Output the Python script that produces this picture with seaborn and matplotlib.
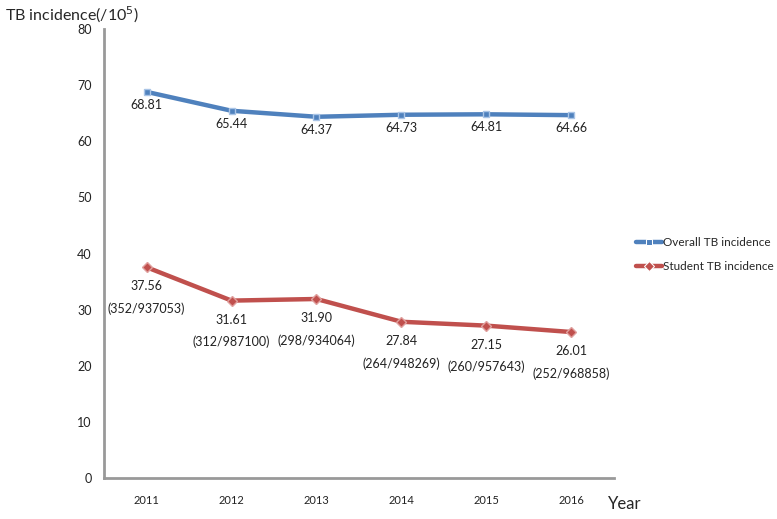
import numpy as np
import pandas as pd
import matplotlib
matplotlib.use('Agg')
import matplotlib.pyplot as plt
import seaborn as sns

# ============================================================
# DATA
# ============================================================

years = ['2011', '2012', '2013', '2014', '2015', '2016']

overall = [68.81, 65.44, 64.37, 64.73, 64.81, 64.66]
student = [37.56, 31.61, 31.90, 27.84, 27.15, 26.01]

student_counts = [
    '(352/937053)',
    '(312/987100)',
    '(298/934064)',
    '(264/948269)',
    '(260/957643)',
    '(252/968858)',
]

series_names = ['Overall TB incidence', 'Student TB incidence']
colors = ['#4F81BD', '#C0504D']

df = pd.DataFrame({
    'pos': list(range(len(years))) * 2,
    'value': overall + student,
    'series': [series_names[0]] * len(years) + [series_names[1]] * len(years),
})

# ============================================================
# PLOT
# ============================================================

sns.set_style('white')
plt.rcParams['font.family'] = ['Lato', 'DejaVu Sans']

fig = plt.figure(figsize=(7.77, 5.19), dpi=100)
ax = fig.add_axes([0.134, 0.079, 0.656, 0.865])

sns.lineplot(
    data=df,
    x='pos',
    y='value',
    hue='series',
    style='series',
    markers=['s', 'D'],
    dashes=False,
    palette=colors,
    linewidth=3.2,
    markersize=5,
    ax=ax,
)

# lighter marker edges, like the original
for line, c in zip(ax.get_lines(), ['#a9c4e6', '#e0a09e']):
    line.set_markeredgecolor(c)
    line.set_markeredgewidth(1.0)

# data labels
for i, v in enumerate(overall):
    ax.text(i, v - 2.3, f'{v:.2f}', ha='center', va='center', fontsize=9, color='#222222')

for i, (v, c) in enumerate(zip(student, student_counts)):
    ax.text(i, v - 3.4, f'{v:.2f}', ha='center', va='center', fontsize=9, color='#222222')
    ax.text(i, v - 7.4, c, ha='center', va='center', fontsize=9, color='#222222')

ax.set_xlim(-0.5, len(years) - 0.5)
ax.set_ylim(0, 80)
ax.set_yticks(range(0, 81, 10))

ax.set_xticks(range(len(years)))
ax.set_xticklabels(years, fontsize=8)
ax.set_xticks(np.arange(-0.5, len(years), 1.0), minor=True)
ax.tick_params(axis='x', which='major', length=0, pad=12, labelcolor='#222222')
ax.tick_params(axis='x', which='minor', length=4, width=1.5, color='#999999', direction='out')
ax.tick_params(axis='y', labelsize=9, length=3, width=1.5, color='#999999',
               labelcolor='#222222', direction='out', pad=6)

ax.set_xlabel('')
ax.set_ylabel('')

for side in ['top', 'right']:
    ax.spines[side].set_visible(False)
for side in ['left', 'bottom']:
    ax.spines[side].set_color('#999999')
    ax.spines[side].set_linewidth(2)

fig.text(0.006, 0.972, r'TB incidence(/10$^5$)', fontsize=11.5, ha='left', va='center')
fig.text(0.783, 0.028, 'Year', fontsize=12, ha='left', va='center')

leg = ax.legend(
    loc='center left',
    bbox_to_anchor=(0.818, 0.51),
    bbox_transform=fig.transFigure,
    frameon=False,
    fontsize=8.5,
    handlelength=2.2,
    handletextpad=0.1,
    labelspacing=1.1,
    borderpad=0,
    borderaxespad=0,
)

plt.savefig('out.png', dpi=100)
plt.close()
